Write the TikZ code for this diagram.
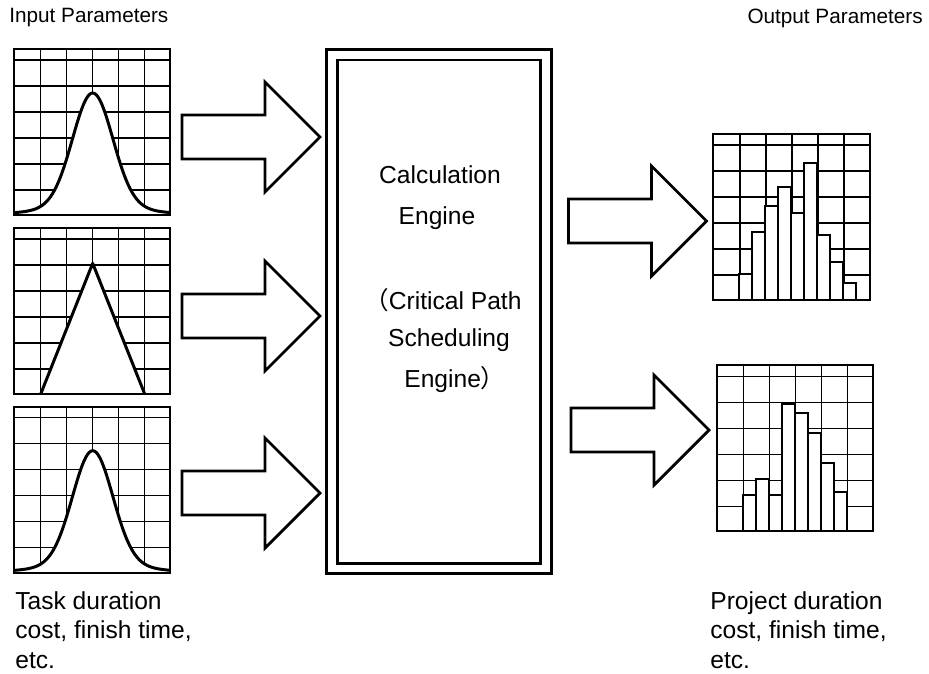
\documentclass[tikz,border=0pt]{standalone}
\usepackage{fontspec}
\setmainfont{Liberation Sans}
\newfontfamily\cjk{Noto Sans CJK SC}
\usetikzlibrary{positioning}

\tikzset{
	chart/.style={draw, line width=1.2pt, minimum width=3.13cm, minimum height=3.32cm, inner sep=0pt, outer sep=0pt},
	gridline/.style={line width=0.6pt},
	curve/.style={line width=1.7pt, line join=round},
	bar/.style={draw, fill=white, line width=1.2pt},
	blockarrow/.style={draw, fill=white, line width=1.6pt},
	txt/.style={font=\fontsize{14pt}{16.8pt}\selectfont, inner sep=0pt, align=left},
	title/.style={font=\fontsize{11.8pt}{13pt}\selectfont, inner sep=0pt}
}

\begin{document}
\begin{tikzpicture}[x=0.02cm, y=-0.02cm]
	\useasboundingbox (0,0) rectangle (929,673);

	% grids of the charts
	\foreach \cx/\cy in {13.7/215, 13.7/394, 13.7/572.7, 713.3/300, 716.7/531.3} {
		\begin{scope}[shift={(\cx,\cy)}]
			\foreach \g in {0,...,4}
				\draw[gridline] (26.7+26*\g,0) -- (26.7+26*\g,-166);
			\foreach \g in {0,...,5}
				\draw[gridline] (0,-25-26*\g) -- (156.5,-25-26*\g);
		\end{scope}
	}

	% first input: bell curve
	\begin{scope}[shift={(13.7,215)}]
		\fill[white] plot[domain=0:156.5, samples=90, smooth] (\x,{-1-112*exp(-(\x-79)^2/800)-9*exp(-(\x-79)^2/3200)}) -- (156.5,0) -- (0,0) -- cycle;
		\draw[curve] plot[domain=0:156.5, samples=90, smooth] (\x,{-1-112*exp(-(\x-79)^2/800)-9*exp(-(\x-79)^2/3200)});
		\node[chart, anchor=south west] (normal) at (0,0) {};
	\end{scope}

	% second input: triangle
	\begin{scope}[shift={(13.7,394)}]
		\filldraw[curve, fill=white] (27,0) -- (79,-130.7) -- (131,0);
		\node[chart, anchor=south west] (triangle) at (0,0) {};
	\end{scope}

	% third input: bell curve
	\begin{scope}[shift={(13.7,572.7)}]
		\fill[white] plot[domain=0:156.5, samples=90, smooth] (\x,{-1-112*exp(-(\x-79)^2/800)-9*exp(-(\x-79)^2/3200)}) -- (156.5,0) -- (0,0) -- cycle;
		\draw[curve] plot[domain=0:156.5, samples=90, smooth] (\x,{-1-112*exp(-(\x-79)^2/800)-9*exp(-(\x-79)^2/3200)});
		\node[chart, anchor=south west] (normalb) at (0,0) {};
	\end{scope}

	% first output histogram
	\begin{scope}[shift={(713.3,300)}]
		\foreach \h [count=\i from 0] in {26,68,94,113.3,87.3,136.7,65,38.3,16.7}
			\draw[bar] (26+13*\i,0) rectangle (39+13*\i,-\h);
		\node[chart, anchor=south west] (histA) at (0,0) {};
	\end{scope}

	% second output histogram
	\begin{scope}[shift={(716.7,531.3)}]
		\foreach \h [count=\i from 0] in {36.3,52.6,36.3,127.3,118,98,68.6,39.3}
			\draw[bar] (26+13*\i,0) rectangle (39+13*\i,-\h);
		\node[chart, anchor=south west] (histB) at (0,0) {};
	\end{scope}

	% block arrows
	\foreach \ax/\ay in {251/137, 251/316, 251/493, 637.5/221, 640/430}
		\draw[blockarrow, shift={(\ax,\ay)}] (-69,-22) -- (14,-22) -- (14,-55) -- (69,0) -- (14,55) -- (14,22) -- (-69,22) -- cycle;

	% calculation engine
	\node[draw, double, double distance=4.5pt, line width=1.6pt, minimum width=4.28cm, minimum height=10.28cm, inner sep=0pt] (engine) at (439,311.5) {};
	\node[txt] (calc) at (440,175) {Calculation};
	\node[txt] (calcb) at (437,218) {Engine};
	\node[txt, anchor=west] (cpath) at (364,300) {{\cjk （}Critical Path};
	\node[txt] (sched) at (449,340) {Scheduling};
	\node[txt, anchor=west] (schedb) at (404,380) {Engine{\cjk ）}};

	% labels
	\node[title, anchor=west] (intitle) at (9,18) {Input Parameters};
	\node[title, anchor=east] (outtitle) at (923,18) {Output Parameters};
	\node[txt, anchor=west] (inlabel) at (15,630) {Task duration\\cost, finish time,\\etc.};
	\node[txt, anchor=west] (outlabel) at (710,630) {Project duration\\cost, finish time,\\etc.};
\end{tikzpicture}
\end{document}
